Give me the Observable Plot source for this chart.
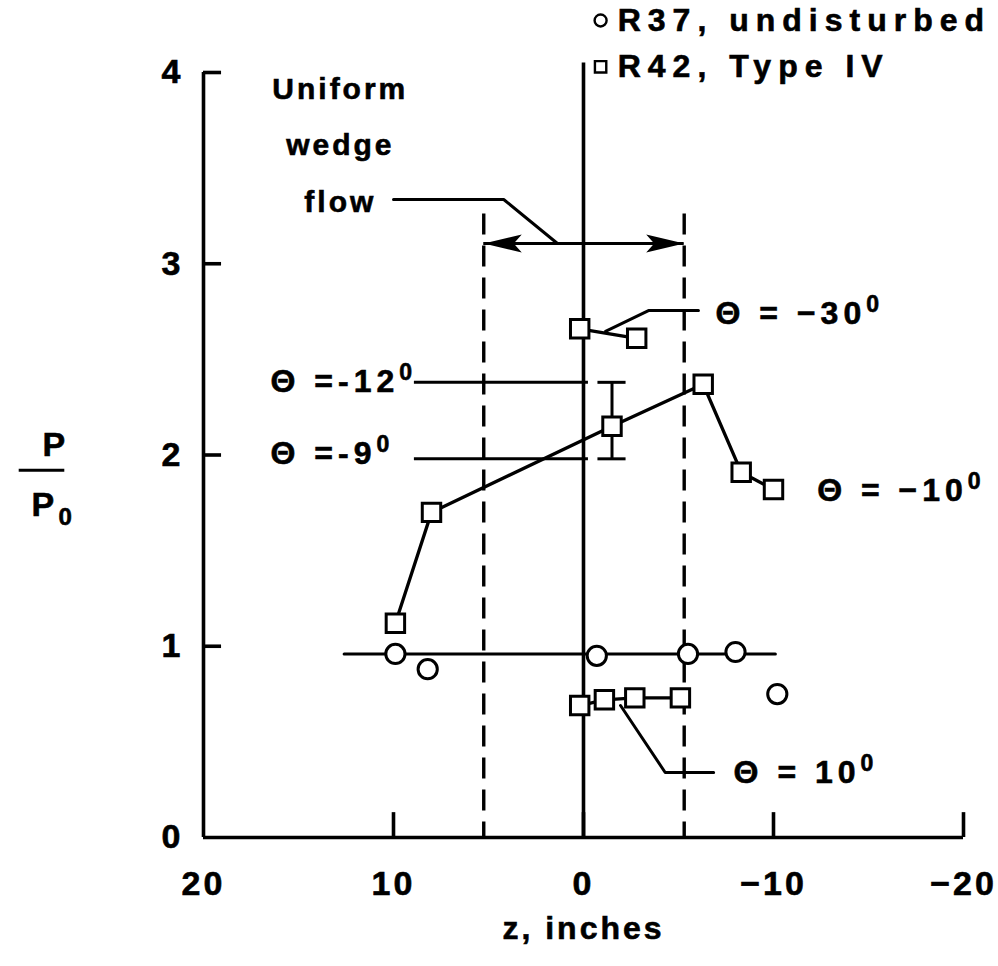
<!DOCTYPE html>
<html><head><meta charset="utf-8">
<script src="https://cdn.jsdelivr.net/npm/d3@7"></script>
<script src="https://cdn.jsdelivr.net/npm/@observablehq/plot@0.6"></script>
<style>
html,body{margin:0;padding:0;background:#fff;}
#chart svg text{font-weight:bold;letter-spacing:3px;stroke:#000;stroke-width:0.6px;}
</style></head><body><div id="chart"></div>
<script>
// ---- axes ----
const xTicks = [20, 10, 0, -10, -20];
const yTicks = [0, 1, 2, 3, 4];

// ---- R37, undisturbed (circles) ----
const r37Z = [9.9, 8.2, -0.7, -5.5, -8.0, -10.2];
const r37P = [0.96, 0.88, 0.95, 0.96, 0.97, 0.75];
const r37LineZ = [12.6, -10.1];
const r37LineP = [0.96, 0.96];

// ---- R42, Type IV (squares) ----
const thetaM30Z = [0.2, -2.8];
const thetaM30P = [2.66, 2.61];
const thetaM10Z = [9.9, 8.0, -1.5, -6.3, -8.3, -10.0];
const thetaM10P = [1.12, 1.70, 2.15, 2.37, 1.91, 1.82];
const theta10Z = [0.2, -1.1, -2.7, -5.1];
const theta10P = [0.69, 0.72, 0.73, 0.73];

// error bar on the theta = -10 point
const errZ = [-1.5];
const errLo = [1.98];
const errHi = [2.38];

// theta = -12 / -9 reference levels
const refP = [2.38, 1.98];
const refZ = [8.9, -0.26];

// uniform wedge flow bounds
const wedgeZ = [5.25, -5.3];
const wedgeTopP = 3.26;
const wedgeArrowP = 3.106;
const zeroLineTopP = 4.05;

// ---- annotations ----
const annLabels = ["Θ = −30°", "Θ = −10°", "Θ = 10°", "Θ =-12°", "Θ =-9°"];
const annZ = [-6.95, -12.3, -7.9, 16.47, 16.47];
const annP = [2.74, 1.814, 0.34, 2.384, 2.008];

const leaderFlowZ = [10.0, 4.2, 1.37];
const leaderFlowP = [3.336, 3.336, 3.106];
const leaderM30Z = [-1.16, -3.42, -6.05];
const leaderM30P = [2.646, 2.755, 2.755];
const leader10Z = [-1.95, -4.3, -6.85];
const leader10P = [0.69, 0.34, 0.34];

const flowText = "Uniform\nwedge\nflow";
const flowZ = 12.8, flowP = 3.66;

const legendLabels = ["R37, undisturbed", "R42, Type IV"];
const legendSymZ = -0.9, legendTextZ = -1.8;
const legendP = [4.272, 4.03];

const yLabelBarZ = [29.7, 27.3];
const yLabelBarP = 1.92;

const fmt = d => d < 0 ? "\u2212" + (-d) : String(d);
const idx = n => Array.from({length: n}, (_, i) => i);

// barbed arrowhead (tip at origin, pointing left)
const barb = {draw(ctx) { ctx.moveTo(0, 0); ctx.lineTo(38, -9); ctx.lineTo(30, 0); ctx.lineTo(38, 9); ctx.closePath(); }};

const lw = 3;
const dataW = 3.3;
const axisW = 3.6;
const plot = Plot.plot({
  width: 998, height: 966,
  marginLeft: 203, marginRight: 35, marginTop: 72, marginBottom: 129,
  x: {domain: [20, -20], axis: null},
  y: {domain: [0, 4], axis: null},
  style: {fontFamily: "'Liberation Sans', Arial, Helvetica, sans-serif", background: "white", color: "black", overflow: "visible"},
  marks: [
    // dashed bounds
    Plot.ruleX(wedgeZ, {y1: wedgeTopP, y2: 0, stroke: "black", strokeWidth: 3.4, strokeDasharray: "21,11"}),
    // z = 0 line
    Plot.ruleX([0], {y1: 0, y2: zeroLineTopP, stroke: "black", strokeWidth: axisW}),
    // wedge arrow
    Plot.ruleY([wedgeArrowP], {x1: wedgeZ[0], x2: wedgeZ[1], stroke: "black", strokeWidth: lw}),
    Plot.dot(idx(2), {x: wedgeZ, y: [wedgeArrowP, wedgeArrowP], symbol: barb, rotate: [0, 180], fill: "black", stroke: "none", r: 5}),
    // leaders
    Plot.line(idx(3), {x: leaderFlowZ, y: leaderFlowP, stroke: "black", strokeWidth: lw}),
    Plot.line(idx(3), {x: leaderM30Z, y: leaderM30P, stroke: "black", strokeWidth: lw}),
    Plot.line(idx(3), {x: leader10Z, y: leader10P, stroke: "black", strokeWidth: lw}),
    // theta -12 / -9 reference lines
    Plot.ruleY(refP, {x1: refZ[0], x2: refZ[1], stroke: "black", strokeWidth: lw}),
    // R37 mean line
    Plot.line(idx(2), {x: r37LineZ, y: r37LineP, stroke: "black", strokeWidth: lw}),
    // R42 lines
    Plot.line(idx(thetaM30Z.length), {x: thetaM30Z, y: thetaM30P, stroke: "black", strokeWidth: dataW}),
    Plot.line(idx(thetaM10Z.length), {x: thetaM10Z, y: thetaM10P, stroke: "black", strokeWidth: dataW}),
    Plot.line(idx(theta10Z.length), {x: theta10Z, y: theta10P, stroke: "black", strokeWidth: dataW}),
    // error bar
    Plot.ruleX(errZ, {y1: errLo, y2: errHi, stroke: "black", strokeWidth: lw}),
    Plot.ruleY(errLo.concat(errHi), {x1: errZ[0] + 0.74, x2: errZ[0] - 0.74, stroke: "black", strokeWidth: lw}),
    // axes lines and ticks
    Plot.ruleX([xTicks[0]], {y1: 0, y2: yTicks[yTicks.length - 1], stroke: "black", strokeWidth: axisW}),
    Plot.ruleY([0], {x1: xTicks[0], x2: xTicks[xTicks.length - 1], stroke: "black", strokeWidth: axisW}),
    Plot.ruleY(yTicks.slice(1), {x1: xTicks[0], x2: xTicks[0] - 0.95, stroke: "black", strokeWidth: axisW}),
    Plot.ruleX(xTicks.slice(1), {y1: 0, y2: 0.13, stroke: "black", strokeWidth: axisW}),
    Plot.axisX({ticks: xTicks, tickSize: 0, tickPadding: 33, tickFormat: fmt, fontSize: 34, fontWeight: "bold", label: null}),
    Plot.axisY({ticks: yTicks, tickSize: 0, tickPadding: 20, tickFormat: fmt, fontSize: 34, fontWeight: "bold", label: null}),
    // markers
    Plot.dot(idx(r37Z.length), {x: r37Z, y: r37P, r: 9.6, stroke: "black", strokeWidth: 3, fill: "white"}),
    Plot.dot(idx(thetaM30Z.length), {x: thetaM30Z, y: thetaM30P, symbol: "square", r: 10.4, stroke: "black", strokeWidth: 3, fill: "white"}),
    Plot.dot(idx(thetaM10Z.length), {x: thetaM10Z, y: thetaM10P, symbol: "square", r: 10.4, stroke: "black", strokeWidth: 3, fill: "white"}),
    Plot.dot(idx(theta10Z.length), {x: theta10Z, y: theta10P, symbol: "square", r: 10.4, stroke: "black", strokeWidth: 3, fill: "white"}),
    // annotations
    Plot.text(annLabels, {x: annZ, y: annP, text: d => d, textAnchor: "start", fontSize: 32, fontWeight: "bold"}),
    Plot.text([flowText], {x: flowZ, y: flowP, text: d => d, textAnchor: "middle", lineHeight: 1.87, fontSize: 30, fontWeight: "bold"}),
    // legend
    Plot.dot([legendLabels[0]], {x: legendSymZ, y: legendP[0], symbol: "circle", r: 6, stroke: "black", strokeWidth: 2.4, fill: "white"}),
    Plot.dot([legendLabels[1]], {x: legendSymZ, y: legendP[1], symbol: "square", r: 6.4, stroke: "black", strokeWidth: 2.4, fill: "white"}),
    Plot.text(legendLabels, {x: legendTextZ, y: legendP, text: d => d, textAnchor: "start", fontSize: 32, fontWeight: "bold"}),
    // axis titles
    Plot.text(["z, inches"], {frameAnchor: "bottom", dy: 101, text: d => d, fontSize: 32, fontWeight: "bold"}),
    Plot.text(["P"], {frameAnchor: "left", dx: -161, dy: -9.5, text: d => d, fontSize: 34, fontWeight: "bold"}),
    Plot.ruleY([yLabelBarP], {x1: yLabelBarZ[0], x2: yLabelBarZ[1], stroke: "black", strokeWidth: 3}),
    Plot.text(["P"], {frameAnchor: "left", dx: -172, dy: 50, text: d => d, fontSize: 34, fontWeight: "bold"}),
    Plot.text(["0"], {frameAnchor: "left", dx: -145, dy: 62, text: d => d, fontSize: 24, fontWeight: "bold"})
  ]
});

// text spacing and superscript degree marks drawn as raised "0"
d3.select(plot).selectAll("text").each(function() {
  if (this.querySelector("tspan")) return;
  const t = this.textContent;
  if (t.startsWith("R37") || t.startsWith("R42")) this.style.letterSpacing = "7px";
  const i = t.indexOf("°");
  if (i >= 0) {
    this.style.letterSpacing = "5px";
    const el = d3.select(this);
    el.text(t.slice(0, i));
    el.append("tspan").attr("dy", "-0.5em").attr("font-size", "0.72em").text("0");
  }
});
document.getElementById("chart").appendChild(plot);
</script></body></html>
